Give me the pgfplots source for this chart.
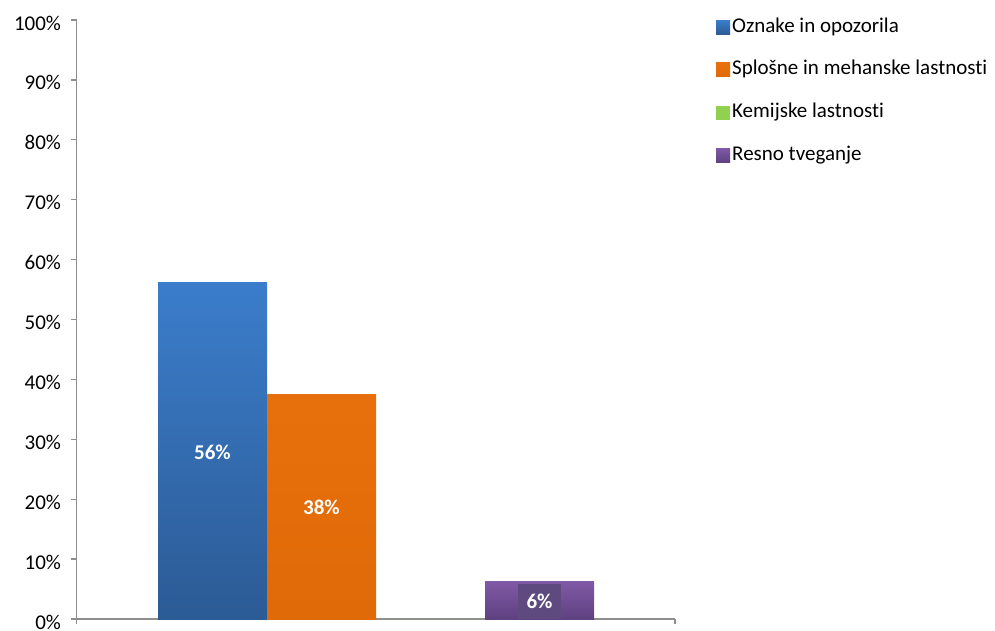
\documentclass[border=0pt]{standalone}
\usepackage{fontspec}
\setmainfont{Carlito}[Ligatures=NoCommon]
\usepackage{pgfplots}
\pgfplotsset{compat=1.18}
\definecolor{axgray}{HTML}{8E8E8E}
\definecolor{blueT}{HTML}{3B7DCB}
\definecolor{blueB}{HTML}{2C5B95}
\definecolor{orangeT}{HTML}{E8700C}
\definecolor{orangeB}{HTML}{E06A08}
\definecolor{greenC}{HTML}{92D050}
\definecolor{purpleT}{HTML}{8059A6}
\definecolor{purpleB}{HTML}{5E4180}
\definecolor{purpleLab}{HTML}{5F4A7F}
\pgfplotsset{
  sqlegend/.style={legend image code/.code={\path[##1,draw=none] (0pt,-7pt) rectangle (14pt,7pt);}},
}
\begin{document}
\begin{tikzpicture}[x=1pt,y=1pt]
\useasboundingbox (0,0) rectangle (995,630);
\begin{axis}[
  at={(76.5pt,11pt)}, anchor=south west,
  width=598.5pt, height=599pt, scale only axis,
  xmin=0, xmax=598.5, ymin=0, ymax=100,
  axis x line*=bottom, axis y line*=left,
  axis line style={axgray, line width=1.3pt, -},
  ytick={0,10,...,100},
  yticklabels={0\%,10\%,20\%,30\%,40\%,50\%,60\%,70\%,80\%,90\%,100\%},
  xtick={0,598.5}, xticklabels={,},
  tick align=outside, major tick length=5pt,
  tick style={axgray, line width=1.3pt},
  tick label style={font=\fontsize{21}{25}\selectfont, black},
  yticklabel style={xshift=-7pt, yshift=-3pt},
  clip=false,
  legend style={at={(axis description cs:1.0685,1.005)}, anchor=north west,
    draw=none, fill=none, inner sep=0pt, row sep=22.7pt, column sep=2pt,
    font=\fontsize{21}{25}\selectfont,
    nodes={inner sep=0pt, text height=15pt, text depth=5pt}},
  legend cell align=left,
]
\addplot[ybar, bar width=109, bar shift=0pt, draw=none, top color=blueT, bottom color=blueB, sqlegend] coordinates {(136,56.25)};
\addlegendentry{Oznake in opozorila}
\addplot[ybar, bar width=109, bar shift=0pt, draw=none, top color=orangeT, bottom color=orangeB, sqlegend] coordinates {(245,37.5)};
\addlegendentry{Splošne in mehanske lastnost\kern0pt i}
\addplot[ybar, bar width=109, bar shift=0pt, draw=none, fill=greenC, sqlegend] coordinates {(354,0)};
\addlegendentry{Kemijske lastnost\kern0pt i}
\addplot[ybar, bar width=109, bar shift=0pt, draw=none, top color=purpleT, bottom color=purpleB, sqlegend] coordinates {(463,6.25)};
\addlegendentry{Resno tveganje}
% data labels
\addplot[forget plot, draw=none, mark=none, nodes near coords, point meta=explicit symbolic,
  every node near coord/.style={anchor=center, font=\fontsize{21}{25}\selectfont\bfseries, text=white}]
  coordinates {(136,27.8)[56\%] (245,18.6)[38\%]};
\addplot[forget plot, draw=none, mark=none, nodes near coords, point meta=explicit symbolic,
  every node near coord/.style={anchor=center, font=\fontsize{21}{25}\selectfont\bfseries, text=white,
    fill=purpleLab, minimum width=43pt, minimum height=35pt, inner sep=0pt}]
  coordinates {(463,3.0)[6\%]};
\end{axis}
\end{tikzpicture}
\end{document}
